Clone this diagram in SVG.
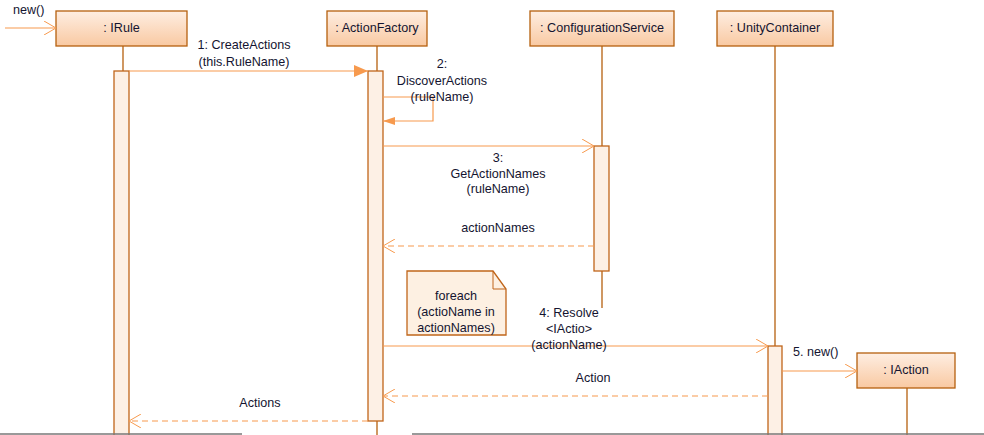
<svg xmlns="http://www.w3.org/2000/svg" width="984" height="435" viewBox="0 0 984 435">
<defs>
<linearGradient id="boxg" x1="0" y1="0" x2="0" y2="1">
<stop offset="0" stop-color="#FEEEE2"/>
<stop offset="1" stop-color="#F9C9A2"/>
</linearGradient>
<marker id="open" viewBox="0 0 12 14" refX="12" refY="7" markerWidth="12" markerHeight="14" markerUnits="userSpaceOnUse" orient="auto">
<path d="M0,0 L12,7 L0,14" fill="none" stroke="#F79A4E" stroke-width="1"/>
</marker>
<marker id="filled" viewBox="0 0 14 12" refX="14" refY="6" markerWidth="14" markerHeight="12" markerUnits="userSpaceOnUse" orient="auto">
<path d="M0,0 L14,6 L0,12 Z" fill="#F79A4E"/>
</marker>
<marker id="filledsm" viewBox="0 0 12 8" refX="12" refY="4" markerWidth="12" markerHeight="8" markerUnits="userSpaceOnUse" orient="auto">
<path d="M0,0 L12,4 L0,8 Z" fill="#F79A4E"/>
</marker>
</defs>
<style>
.box{fill:url(#boxg);stroke:#B5600F;stroke-width:1.3}
.life{stroke:#B5600F;stroke-width:1.3;fill:none}
.act{fill:#FDF0E5;stroke:#C0651A;stroke-width:1.3}
.msg{stroke:#F79A4E;stroke-width:1.2;fill:none}
.ret{stroke:#F79A4E;stroke-width:1.2;fill:none;stroke-dasharray:6,4}
text{font-family:"Liberation Sans",Arial,sans-serif;font-size:12.6px;fill:#141430}
.c{text-anchor:middle}
.note{fill:#FDF0E2;stroke:#C0651A;stroke-width:1.3}
.edge{stroke:#777;stroke-width:1.5}
</style>
<rect width="984" height="435" fill="#fff"/>
<g id="lifelines">
<line class="life" x1="123" y1="46" x2="123" y2="71"/>
<line class="life" x1="377" y1="46" x2="377" y2="435"/>
<line class="life" x1="602" y1="46" x2="602" y2="308"/>
<line class="life" x1="775" y1="46" x2="775" y2="346"/>
<line class="life" x1="907" y1="388" x2="907" y2="435"/>
</g>
<g id="IRule">
<rect class="box" x="56" y="11" width="131" height="35"/>
<text class="c" x="121.5" y="32">: IRule</text>
<rect class="act" x="114" y="71" width="15" height="370"/>
</g>
<g id="ActionFactory">
<rect class="box" x="327" y="11" width="100" height="35"/>
<text class="c" x="377" y="32">: ActionFactory</text>
<rect class="act" x="368" y="71" width="15" height="350"/>
</g>
<g id="ConfigurationService">
<rect class="box" x="530" y="11" width="144" height="35"/>
<text class="c" x="602" y="32">: ConfigurationService</text>
<rect class="act" x="594" y="146" width="15" height="125"/>
</g>
<g id="UnityContainer">
<rect class="box" x="717" y="11" width="116" height="35"/>
<text class="c" x="775" y="32">: UnityContainer</text>
<rect class="act" x="768" y="346" width="14" height="95"/>
</g>
<g id="IAction">
<rect class="box" x="857" y="353" width="98" height="35"/>
<text class="c" x="906" y="374">: IAction</text>
</g>
<g id="note">
<path class="note" d="M407,271 L493,271 L506,289 L506,335 L407,335 Z"/>
<path d="M493,271 L493,289 L506,289" fill="none" stroke="#C0651A" stroke-width="1"/>
<text class="c" x="456" y="300">foreach</text>
<text class="c" x="456" y="316">(actioName in</text>
<text class="c" x="456" y="332">actionNames)</text>
</g>
<g id="connectors">
<line class="msg" x1="5" y1="28" x2="56" y2="28" marker-end="url(#open)"/>
<text x="13" y="14">new()</text>
<line class="msg" x1="129" y1="71" x2="368" y2="71" marker-end="url(#filled)"/>
<text class="c" x="244" y="49">1: CreateActions</text>
<text class="c" x="244" y="66">(this.RuleName)</text>
<path class="msg" d="M383,97 L433,97 L433,121 L383,121" marker-end="url(#filledsm)"/>
<text class="c" x="442" y="68">2:</text>
<text class="c" x="442" y="85">DiscoverActions</text>
<text class="c" x="442" y="101">(ruleName)</text>
<line class="msg" x1="383" y1="146" x2="594" y2="146" marker-end="url(#open)"/>
<text class="c" x="498" y="162">3:</text>
<text class="c" x="498" y="178">GetActionNames</text>
<text class="c" x="498" y="193">(ruleName)</text>
<line class="ret" x1="594" y1="246" x2="383" y2="246" marker-end="url(#open)"/>
<text class="c" x="498" y="232">actionNames</text>
<line class="msg" x1="383" y1="346" x2="768" y2="346" marker-end="url(#open)"/>
<text class="c" x="569" y="317">4: Resolve</text>
<text class="c" x="569" y="333">&lt;IActio&gt;</text>
<text class="c" x="569" y="349">(actionName)</text>
<line class="msg" x1="782" y1="371" x2="857" y2="371" marker-end="url(#open)"/>
<text x="793" y="356">5. new()</text>
<line class="ret" x1="768" y1="396" x2="383" y2="396" marker-end="url(#open)"/>
<text class="c" x="593" y="382">Action</text>
<line class="ret" x1="368" y1="421" x2="129" y2="421" marker-end="url(#open)"/>
<text class="c" x="260" y="407">Actions</text>
</g>
<g id="edges">
<line class="edge" x1="0" y1="434" x2="242" y2="434"/>
<line class="edge" x1="412" y1="434" x2="984" y2="434"/>
</g>
</svg>
